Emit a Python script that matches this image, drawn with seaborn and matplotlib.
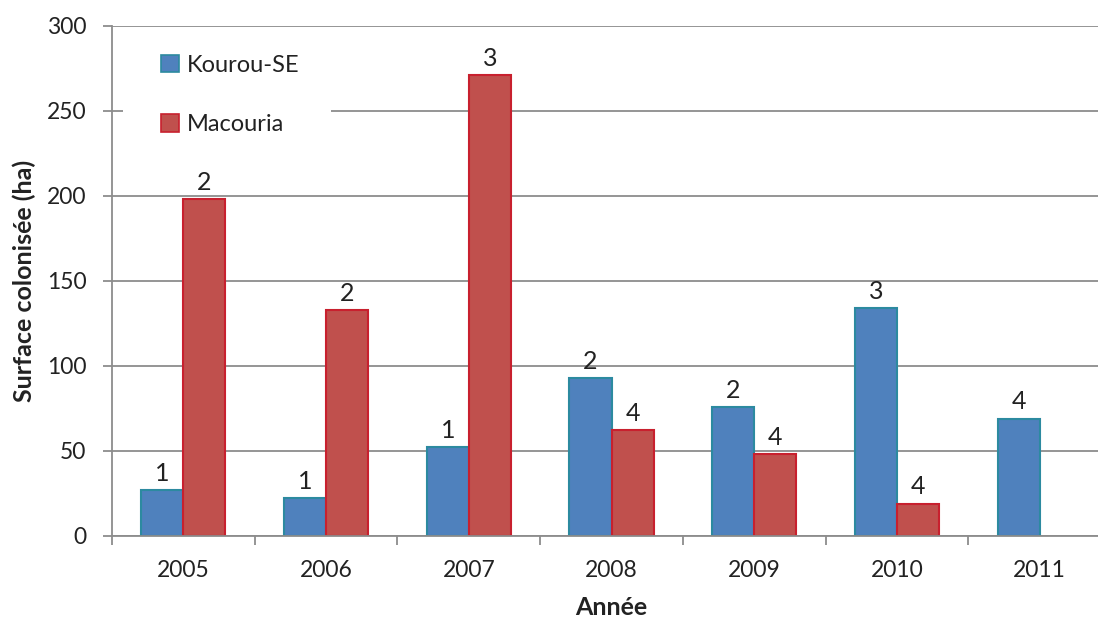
import matplotlib
matplotlib.use("Agg")
import matplotlib.pyplot as plt
from matplotlib.patches import Rectangle
import seaborn as sns
import pandas as pd
import numpy as np

# Surface colonisée par année et par site
annees = ["2005", "2006", "2007", "2008", "2009", "2010", "2011"]
kourou = [27, 22, 52, 93, 76, 134, 69]
macouria = [198, 133, 271, 62, 48, 19, np.nan]
kourou_labels = ["1", "1", "1", "2", "2", "3", "4"]
macouria_labels = ["2", "2", "3", "4", "4", "4", ""]
series = ["Kourou-SE", "Macouria"]

df = pd.DataFrame({
    "Année": annees * 2,
    "Surface": kourou + macouria,
    "Site": [series[0]] * len(annees) + [series[1]] * len(annees),
})

sns.set_theme(style="white")
plt.rcParams["font.family"] = ["Lato", "DejaVu Sans"]

fig = plt.figure(figsize=(10.98, 6.18), dpi=100)
# the last category runs slightly past the right edge of the figure
ax = fig.add_axes([0.102, 0.133, 0.91, 0.825])

fill = {"Kourou-SE": "#4F81BD", "Macouria": "#C0504D"}
edge = {"Kourou-SE": "#2C8AA0", "Macouria": "#C8202E"}
text_color = "#222222"
grid_color = "#8C8C8C"

sns.barplot(data=df, x="Année", y="Surface", hue="Site", palette=fill,
            saturation=1, width=0.59, ax=ax, legend=False, linewidth=1.5)

labels = {series[0]: kourou_labels, series[1]: macouria_labels}
for cont, name in zip(ax.containers, series):
    for bar in cont:
        bar.set_edgecolor(edge[name])
        h = bar.get_height()
        if np.isnan(h) or h == 0:
            continue
        idx = int(round(bar.get_x() + bar.get_width() / 2))
        ax.text(bar.get_x() + bar.get_width() / 2, h + 3, labels[name][idx],
                ha="center", va="bottom", fontsize=18, color=text_color)

ax.set_ylim(0, 300)
ax.set_xlim(-0.5, len(annees) - 0.5)
ax.set_yticks(range(0, 301, 50))
ax.yaxis.grid(True, color=grid_color, linewidth=1.3)
ax.set_axisbelow(True)

for s in ["top", "right"]:
    ax.spines[s].set_visible(False)
for s in ["left", "bottom"]:
    ax.spines[s].set_color(grid_color)
    ax.spines[s].set_linewidth(1.3)

ax.tick_params(axis="y", which="major", left=True, length=6.5, width=1.3, pad=12,
               color=grid_color, labelsize=16.5, labelcolor=text_color, direction="out")
ax.tick_params(axis="x", which="major", bottom=False, labelsize=16.5,
               labelcolor=text_color, pad=11.5)
ax.set_xticks(np.arange(-0.5, len(annees), 1.0), minor=True)
ax.tick_params(axis="x", which="minor", bottom=True, length=6.5, width=1.3,
               color=grid_color, direction="out")

ax.set_xlabel("Année", fontsize=18, fontweight="bold", color=text_color, labelpad=11)
ax.set_ylabel("Surface colonisée (ha)", fontsize=18, fontweight="bold",
              color=text_color, labelpad=8)

# white backing behind the legend, hiding the gridline under it
ax.add_patch(Rectangle((0.011, 0.757), 0.208, 0.216, transform=ax.transAxes,
                       facecolor="white", edgecolor="none", zorder=0.8))

handles = [Rectangle((0, 0), 1, 1, facecolor=fill[n], edgecolor=edge[n], linewidth=1.2)
           for n in series]
leg = ax.legend(handles, series, loc="upper left", bbox_to_anchor=(0.049, 0.943),
                frameon=False, fontsize=17, handlelength=0.75, handleheight=0.75,
                handletextpad=0.35, labelspacing=1.62, borderpad=0, borderaxespad=0)
for t in leg.get_texts():
    t.set_color(text_color)

fig.savefig("out.png", dpi=100)
